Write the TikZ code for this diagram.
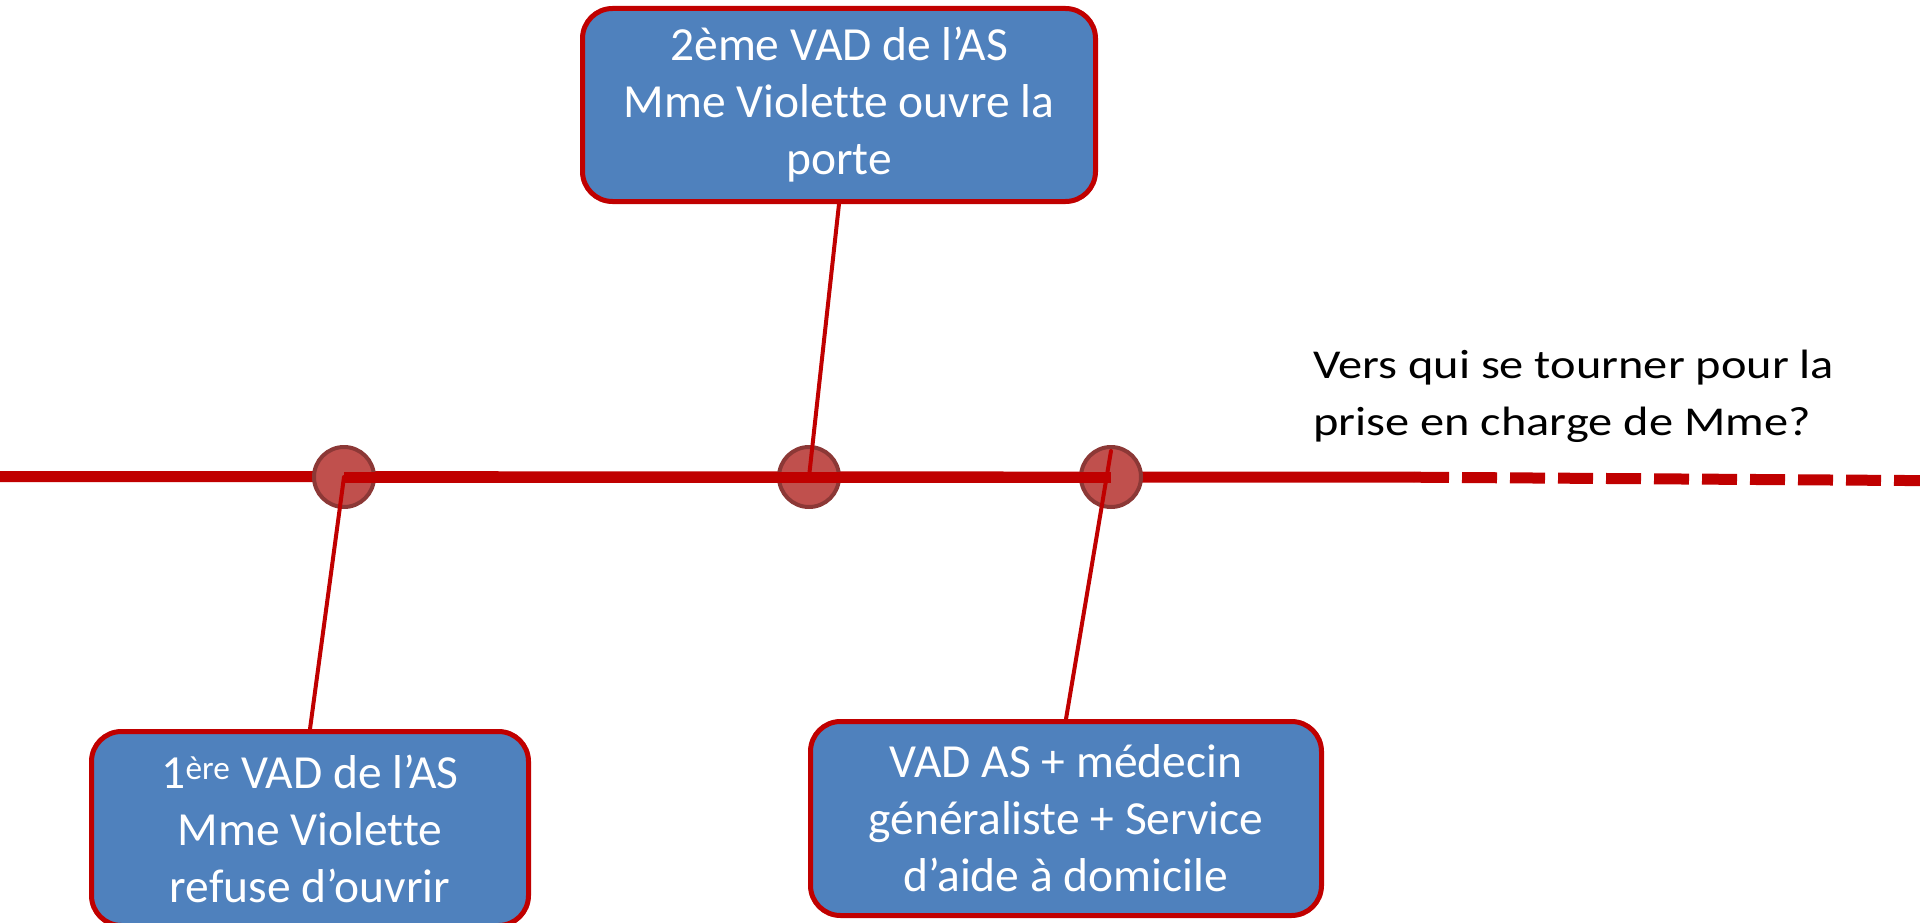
\documentclass[tikz,border=0pt]{standalone}
\usepackage{fontspec}
\setmainfont{Carlito}[Ligatures=NoCommon]
\newfontfamily\questfont{Carlito}[Ligatures=NoCommon,FakeStretch=1.18]
\usetikzlibrary{calc}
\definecolor{boxblue}{HTML}{4F81BD}
\definecolor{linered}{HTML}{C00000}
\definecolor{dotred}{HTML}{C0504D}
\definecolor{dotrim}{HTML}{8C3836}
\tikzset{
  evbox/.style={draw=linered,line width=5pt,fill=boxblue,rounded corners=30pt,
    text=white,align=center,inner sep=0pt,font=\fontsize{47.5}{57}\selectfont},
  evdot/.style={circle,draw=dotrim,line width=4pt,fill=dotred,minimum size=60pt,inner sep=0pt},
  evline/.style={draw=linered,line width=4pt},
  timeline/.style={draw=linered,line width=11pt,line cap=butt}
}
\begin{document}
\begin{tikzpicture}[line cap=round,line join=round,x=1pt,y=-1pt]
\clip (0,0) rectangle (1920,923);
\useasboundingbox (0,0) rectangle (1920,923);
\node [evbox,minimum width=437pt,minimum height=194pt] (visit1) at (310,828.5)
  {1\textsuperscript{ère} VAD de l’AS\\Mme Violette\\refuse d’ouvrir};
\node [evbox,minimum width=513pt,minimum height=193pt] (visit2) at (839,105)
  {2ème VAD de l’AS\\Mme Violette ouvre la\\porte};
\node [evbox,minimum width=511pt,minimum height=194pt] (visit3) at (1066,818.5)
  {VAD AS + médecin\\généraliste + Service\\d’aide à domicile};
\node [anchor=west,inner sep=0pt,align=left,font=\questfont\fontsize{41}{57}\selectfont] (question) at (1313,396)
  {Vers qui se tourner pour la\\prise en charge de Mme?};
% time line
\coordinate (tstart) at (0,476.5);
\coordinate (tend) at (1414,477.2);
\coordinate (tfar) at (1920,480.6);
\draw [timeline] (tstart)--(tend);
\draw [timeline,dash pattern=on 35pt off 13pt] (tend)--(tfar);
\node [evdot] (c1) at (344,477) {};
\node [evdot] (c2) at (809,477) {};
\node [evdot] (c3) at (1111,477) {};
\draw [timeline] (c1.center)--(c3.center);
\coordinate (c3top) at (1111,451);
\draw [evline] (c1.center)--(visit1.north);
\draw [evline] (visit2.south)--(c2.center);
\draw [evline] (visit3.north)--(c3top);
%\draw [evline] (c3.center)--(c3top);
\end{tikzpicture}
\end{document}
